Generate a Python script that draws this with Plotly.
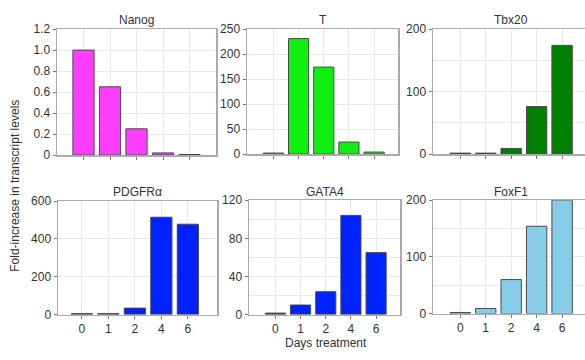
import plotly.graph_objects as go

W, H = 585, 360

days = ["0", "1", "2", "4", "6"]

genes = ["Nanog", "T", "Tbx20", "PDGFRα", "GATA4", "FoxF1"]
nanog = [1.0, 0.65, 0.25, 0.02, 0.005]
t_vals = [2, 231, 174, 24, 4]
tbx20 = [1.5, 1.5, 9, 76, 174]
pdgfra = [5, 5, 34, 515, 478]
gata4 = [1.5, 10, 24, 104, 65]
foxf1 = [2, 9, 60, 154, 200]
series = [nanog, t_vals, tbx20, pdgfra, gata4, foxf1]

colors = ["#FF3DFF", "#11EE11", "#008000", "#0022FF", "#0022FF", "#87CDEA"]

y_ticks = [
    ([0, 0.2, 0.4, 0.6, 0.8, 1.0, 1.2], ["0", "0.2", "0.4", "0.6", "0.8", "1.0", "1.2"], 1.2),
    ([0, 50, 100, 150, 200, 250], ["0", "50", "100", "150", "200", "250"], 250),
    ([0, 100, 200], ["0", "100", "200"], 200),
    ([0, 200, 400, 600], ["0", "200", "400", "600"], 600),
    ([0, 40, 80, 120], ["0", "40", "80", "120"], 120),
    ([0, 100, 200], ["0", "100", "200"], 200),
]
minor_step = [None, None, 50, None, 20, 50]

# panel pixel boxes (x0, x1, ytop, ybottom)
boxes = [
    (57, 216, 23, 154),
    (247, 398, 23, 153),
    (433, 585, 23, 153),
    (58, 217, 202, 320),
    (249, 400, 201, 320),
    (433, 585, 201, 319),
]
xranges = [[-1, 5], [-1.05, 4.95], [-1.07, 4.9], [-0.9, 5.1], [-1.05, 4.95], [-1.07, 4.9]]

fig = go.Figure()
layout = dict(
    width=W, height=H,
    margin=dict(l=0, r=0, t=0, b=0),
    paper_bgcolor="white", plot_bgcolor="white",
    showlegend=False,
    font=dict(family="Liberation Sans, Arial, sans-serif", size=12, color="#333333"),
)
annotations = []
axis_line = "#ABABAB"
grid = "#E8E8E8"

for i in range(6):
    n = i + 1
    xa = "x" if n == 1 else f"x{n}"
    ya = "y" if n == 1 else f"y{n}"
    fig.add_trace(go.Bar(
        x=days, y=series[i], xaxis=xa, yaxis=ya,
        marker=dict(color=colors[i], line=dict(color="#4A4A4A", width=1)),
        width=0.8, hoverinfo="skip",
    ))
    x0, x1, yt, yb = boxes[i]
    tv, tt, ymax = y_ticks[i]
    xkey = "xaxis" if n == 1 else f"xaxis{n}"
    ykey = "yaxis" if n == 1 else f"yaxis{n}"
    right_edge = x1 >= W
    layout[xkey] = dict(
        domain=[x0 / W, min(x1 / W, 1)],
        anchor=ya, type="category",
        range=xranges[i],
        showline=True, linecolor=axis_line, linewidth=1.5, mirror=True,
        showgrid=True, gridcolor=grid, gridwidth=1,
        ticks="outside", ticklen=3, tickcolor="#777777",
        showticklabels=(i >= 3),
        tickfont=dict(size=12, color="#333333"),
        fixedrange=True,
    )
    ydict = dict(
        domain=[1 - yb / H, 1 - yt / H],
        anchor=xa, range=[0, ymax],
        tickvals=tv, ticktext=tt,
        showline=True, linecolor=axis_line, linewidth=1.5,
        mirror=(not right_edge),
        showgrid=True, gridcolor=grid, gridwidth=1,
        zeroline=False,
        ticks="outside", ticklen=3, tickcolor="#777777",
        tickfont=dict(size=12, color="#333333"),
        fixedrange=True,
    )
    if minor_step[i]:
        ydict["minor"] = dict(dtick=minor_step[i], showgrid=True, gridcolor=grid, ticks="")
    layout[ykey] = ydict
    annotations.append(dict(
        text=genes[i], xref="paper", yref="paper",
        x=((x0 + (x1 if not right_edge else 589)) / 2) / W, y=1 - (yt - 9) / H,
        showarrow=False, xanchor="center", yanchor="middle",
        font=dict(size=12, color="#333333"),
    ))

annotations.append(dict(
    text="Fold-increase in transcript levels", xref="paper", yref="paper",
    x=15 / W, y=1 - 186 / H, textangle=-90, showarrow=False,
    xanchor="center", yanchor="middle", font=dict(size=12, color="#333333"),
))
annotations.append(dict(
    text="Days treatment", xref="paper", yref="paper",
    x=326 / W, y=1 - 350 / H, showarrow=False,
    xanchor="center", yanchor="middle", font=dict(size=12, color="#333333"),
))
layout["annotations"] = annotations
fig.update_layout(**layout)
fig.write_html(
    "out.html",
    config={"displayModeBar": False, "staticPlot": True},
    post_script="document.body.style.margin='0';document.body.style.overflow='hidden';",
)
